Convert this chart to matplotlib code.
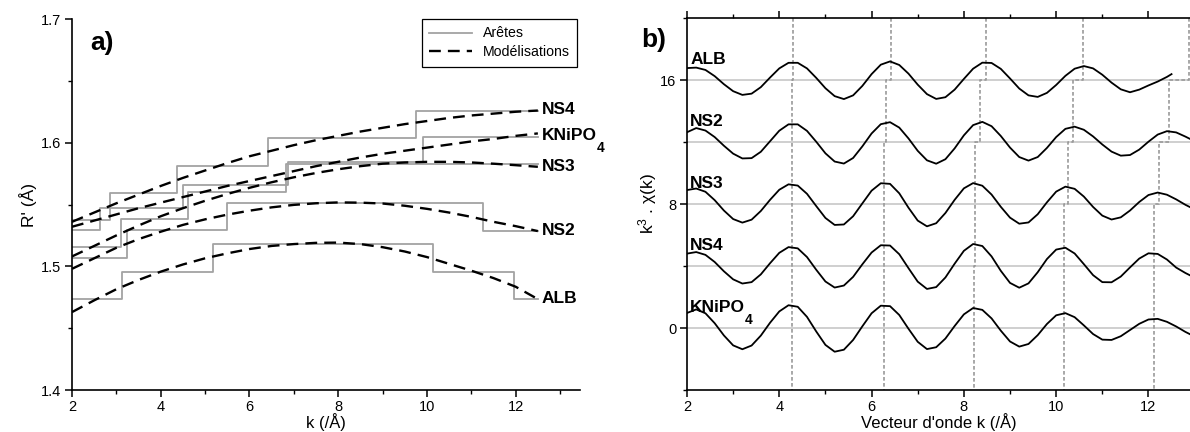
import matplotlib

matplotlib.use("Agg")
import matplotlib.pyplot as plt
from matplotlib.lines import Line2D
from matplotlib.ticker import MultipleLocator, FormatStrFormatter

plt.rcParams.update({
    "font.family": "Liberation Sans",
    "mathtext.fontset": "custom",
    "mathtext.rm": "Liberation Sans",
    "mathtext.it": "Liberation Sans:italic",
    "mathtext.bf": "Liberation Sans:bold",
    "font.size": 10,
    "axes.linewidth": 1.2,
    "xtick.major.size": 5, "ytick.major.size": 5,
    "xtick.minor.size": 3, "ytick.minor.size": 3,
    "xtick.major.width": 1.1, "ytick.major.width": 1.1,
    "xtick.minor.width": 1.0, "ytick.minor.width": 1.0,
})

STEP_GREY = "#a3a3a3"
BASE_GREY = "#cfcfcf"
STAIR_GREY = "#9a9a9a"

# ---- a) R' vs k : step edges ("Arêtes") and model curves ("Modélisations")
SERIES = ["NS4", "KNiPO", "NS3", "NS2", "ALB"]
EDGE_NS4 = [2.0, 2.85, 4.37, 6.42, 9.76, 12.5]
LEV_NS4 = [1.5375, 1.559, 1.581, 1.604, 1.626]
EDGE_KNI = [2.0, 2.62, 4.51, 6.87, 9.91, 12.5]
LEV_KNI = [1.529, 1.547, 1.566, 1.5846, 1.6048]
EDGE_NS3 = [2.0, 3.1, 4.62, 6.83, 12.5]
LEV_NS3 = [1.5154, 1.538, 1.5604, 1.5827]
EDGE_NS2 = [2.0, 3.23, 5.5, 11.26, 12.5]
LEV_NS2 = [1.5065, 1.529, 1.5515, 1.5288]
EDGE_ALB = [2.0, 3.12, 5.18, 10.14, 11.96, 12.5]
LEV_ALB = [1.4736, 1.4957, 1.5183, 1.4957, 1.4736]

K_MOD = [2.0, 2.5, 3.0, 3.5, 4.0, 4.5, 5.0, 5.5, 6.0, 6.5, 7.0, 7.5, 8.0,
         8.5, 9.0, 9.5, 10.0, 10.5, 11.0, 11.5, 12.0, 12.5]
MOD_NS4 = [1.536, 1.5435, 1.551, 1.558, 1.565, 1.5715, 1.5775, 1.5835, 1.589,
           1.5935, 1.598, 1.602, 1.6055, 1.609, 1.612, 1.615, 1.6175, 1.62,
           1.622, 1.6235, 1.625, 1.626]
MOD_KNI = [1.532, 1.537, 1.542, 1.547, 1.5515, 1.556, 1.5605, 1.565, 1.569,
           1.573, 1.577, 1.581, 1.5845, 1.588, 1.591, 1.5935, 1.596, 1.5985,
           1.601, 1.603, 1.6055, 1.6075]
MOD_NS3 = [1.508, 1.5165, 1.525, 1.533, 1.5405, 1.547, 1.553, 1.5585, 1.5635,
           1.568, 1.572, 1.5755, 1.5785, 1.581, 1.583, 1.584, 1.5845, 1.5845,
           1.584, 1.583, 1.5818, 1.5805]
MOD_NS2 = [1.498, 1.5065, 1.515, 1.522, 1.528, 1.5335, 1.538, 1.5418, 1.545,
           1.5477, 1.5497, 1.551, 1.5517, 1.5515, 1.5508, 1.549, 1.5465,
           1.5435, 1.54, 1.536, 1.5325, 1.5285]
MOD_ALB = [1.463, 1.4725, 1.4815, 1.489, 1.4957, 1.5015, 1.5065, 1.5105,
           1.514, 1.5165, 1.518, 1.519, 1.5192, 1.518, 1.5155, 1.512, 1.5075,
           1.502, 1.4965, 1.4905, 1.4835, 1.4735]

# ---- b) k^3 chi(k), stacked
K_CHI = [2.0, 2.2, 2.4, 2.6, 2.8, 3.0, 3.2, 3.4, 3.6, 3.8, 4.0, 4.2, 4.4, 4.6,
         4.8, 5.0, 5.2, 5.4, 5.6, 5.8, 6.0, 6.2, 6.4, 6.6, 6.8, 7.0, 7.2, 7.4,
         7.6, 7.8, 8.0, 8.2, 8.4, 8.6, 8.8, 9.0, 9.2, 9.4, 9.6, 9.8, 10.0,
         10.2, 10.4, 10.6, 10.8, 11.0, 11.2, 11.4, 11.6, 11.8, 12.0, 12.2,
         12.4, 12.6, 12.8, 12.9]
K_CHI_ALB = K_CHI[:53] + [12.5]
CHI_ALB = [16.77, 16.8, 16.65, 16.25, 15.73, 15.28, 15.04, 15.12, 15.54, 16.16,
           16.75, 17.11, 17.11, 16.75, 16.14, 15.47, 14.96, 14.77, 15.01, 15.62,
           16.38, 16.99, 17.2, 16.97, 16.41, 15.70, 15.09, 14.78, 14.89, 15.38,
           16.07, 16.73, 17.12, 17.10, 16.72, 16.10, 15.45, 15.01, 14.91, 15.17,
           15.68, 16.27, 16.73, 16.9, 16.75, 16.34, 15.83, 15.40, 15.21, 15.38,
           15.65, 15.9, 16.2, 16.38]
CHI_NS2 = [12.63, 12.9, 12.74, 12.32, 11.76, 11.25, 10.94, 10.96, 11.37, 12.05,
           12.73, 13.14, 13.14, 12.72, 12.02, 11.27, 10.74, 10.61, 10.97, 11.72,
           12.55, 13.15, 13.28, 12.93, 12.23, 11.43, 10.82, 10.6, 10.89, 11.59,
           12.43, 13.09, 13.3, 13.02, 12.39, 11.64, 11.03, 10.8, 11.03, 11.62,
           12.32, 12.85, 12.99, 12.79, 12.36, 11.84, 11.38, 11.12, 11.16, 11.51,
           12.02, 12.48, 12.7, 12.62, 12.35, 12.2]
CHI_NS3 = [8.9, 9.0, 8.79, 8.25, 7.58, 7.03, 6.8, 6.99, 7.55, 8.27, 8.92, 9.27,
           9.19, 8.66, 7.87, 7.10, 6.65, 6.68, 7.21, 8.04, 8.86, 9.34, 9.30,
           8.69, 7.76, 6.93, 6.56, 6.76, 7.42, 8.27, 9.01, 9.35, 9.18, 8.61,
           7.82, 7.12, 6.73, 6.81, 7.34, 8.11, 8.80, 9.12, 8.98, 8.48, 7.81,
           7.25, 7.0, 7.14, 7.58, 8.13, 8.58, 8.74, 8.6, 8.3, 7.95, 7.8]
CHI_NS4 = [4.8, 4.9, 4.72, 4.26, 3.66, 3.14, 2.87, 2.96, 3.46, 4.18, 4.85, 5.22,
           5.14, 4.58, 3.76, 3.00, 2.61, 2.74, 3.30, 4.11, 4.87, 5.34, 5.32,
           4.76, 3.86, 2.99, 2.52, 2.64, 3.26, 4.15, 4.98, 5.42, 5.29, 4.62,
           3.69, 2.91, 2.6, 2.88, 3.60, 4.45, 5.06, 5.18, 4.81, 4.12, 3.41,
           2.96, 2.95, 3.32, 3.91, 4.48, 4.82, 4.78, 4.42, 3.9, 3.55, 3.4]
CHI_KNI = [0.97, 1.2, 0.95, 0.31, -0.48, -1.12, -1.37, -1.13, -0.49, 0.34, 1.07,
           1.47, 1.37, 0.72, -0.22, -1.09, -1.53, -1.40, -0.77, 0.11, 0.95,
           1.44, 1.41, 0.84, -0.05, -0.89, -1.36, -1.24, -0.68, 0.13, 0.88,
           1.29, 1.17, 0.62, -0.17, -0.87, -1.2, -1.03, -0.46, 0.26, 0.82, 0.96,
           0.70, 0.17, -0.39, -0.75, -0.77, -0.53, -0.13, 0.27, 0.55, 0.59, 0.4,
           0.1, -0.25, -0.4]
OFFSETS = [16, 12, 8, 4, 0]
# peak positions per curve (ALB, NS2, NS3, NS4, KNiPO4) for the 5 oscillations
PEAK_ALB = [4.30, 6.42, 8.47, 10.58, 12.87]
PEAK_NS2 = [4.27, 6.31, 8.36, 10.36, 12.44]
PEAK_NS3 = [4.27, 6.26, 8.24, 10.25, 12.22]
PEAK_NS4 = [4.27, 6.26, 8.24, 10.18, 12.11]
PEAK_KNI = [4.27, 6.26, 8.23, 10.18, 12.11]

fig = plt.figure(figsize=(11.9, 4.32), dpi=100)
ax1 = fig.add_axes([0.0605, 0.0972, 0.4269, 0.8588])
ax2 = fig.add_axes([0.5773, 0.0972, 0.4227, 0.8611])

# ---- a)
edges = [EDGE_NS4, EDGE_KNI, EDGE_NS3, EDGE_NS2, EDGE_ALB]
levels = [LEV_NS4, LEV_KNI, LEV_NS3, LEV_NS2, LEV_ALB]
models = [MOD_NS4, MOD_KNI, MOD_NS3, MOD_NS2, MOD_ALB]
for e, lv in zip(edges, levels):
    ax1.step(e, lv + [lv[-1]], where="post", color=STEP_GREY, lw=1.3)
for m in models:
    ax1.plot(K_MOD, m, color="black", lw=1.7, dashes=(5, 3))
lab_y = [1.627, 1.606, 1.581, 1.5288, 1.4736]
for name, y in zip(SERIES, lab_y):
    t = ax1.text(12.58, y, name, fontsize=12.5, fontweight="bold",
                 va="center", ha="left", clip_on=False)
    if name == "KNiPO":
        ax1.annotate("4", xy=(1, 0), xycoords=t, xytext=(0, 1),
                     textcoords="offset points", fontsize=10,
                     fontweight="bold", va="top", ha="left",
                     annotation_clip=False)
ax1.set_xlim(2, 13.45)
ax1.set_ylim(1.4, 1.7)
ax1.xaxis.set_major_locator(MultipleLocator(2))
ax1.xaxis.set_minor_locator(MultipleLocator(1))
ax1.yaxis.set_major_locator(MultipleLocator(0.1))
ax1.yaxis.set_minor_locator(MultipleLocator(0.05))
ax1.yaxis.set_major_formatter(FormatStrFormatter("%.1f"))
ax1.spines["top"].set_visible(False)
ax1.spines["right"].set_visible(False)
ax1.tick_params(which="both", direction="out", labelsize=10.5, pad=2.5)
ax1.set_xlabel("k (/Å)", fontsize=12, labelpad=-1)
ax1.set_ylabel("R' (Å)", fontsize=12.5, labelpad=3)
handles = [Line2D([], [], color=STEP_GREY, lw=1.3, label="Arêtes"),
           Line2D([], [], color="black", lw=1.7, dashes=(5, 3),
                  label="Modélisations")]
leg = ax1.legend(handles=handles, loc="upper right",
                 bbox_to_anchor=(1.008, 1.018), fontsize=10.2,
                 handlelength=3.0, fancybox=False, framealpha=1,
                 edgecolor="black", borderpad=0.5, labelspacing=0.35)
leg.get_frame().set_linewidth(0.9)

# ---- b)
curves = [(K_CHI_ALB, CHI_ALB), (K_CHI, CHI_NS2), (K_CHI, CHI_NS3),
          (K_CHI, CHI_NS4), (K_CHI, CHI_KNI)]
for off in OFFSETS:
    ax2.axhline(off, color=BASE_GREY, lw=1.4, zorder=1)
peaks = [PEAK_ALB, PEAK_NS2, PEAK_NS3, PEAK_NS4, PEAK_KNI]
stair_levels = [20, 16, 12, 8, 4, -4]
for j in range(len(PEAK_ALB)):
    xs, ys = [], []
    for i, p in enumerate(peaks):
        xs += [p[j], p[j]]
        ys += [stair_levels[i], stair_levels[i + 1]]
    ax2.plot(xs, ys, color=STAIR_GREY, lw=1.2, dashes=(2.2, 1.4), zorder=2)
for kk, cc in curves:
    ax2.plot(kk, cc, color="black", lw=1.3, zorder=3)
names_b = ["ALB", "NS2", "NS3", "NS4", "KNiPO"]
for name, off in zip(names_b, OFFSETS):
    t = ax2.text(2.07, off + 1.05, name, fontsize=12.5, fontweight="bold",
                 va="baseline", ha="left")
    if name == "KNiPO":
        ax2.annotate("4", xy=(1, 0), xycoords=t, xytext=(0, 1),
                     textcoords="offset points", fontsize=10,
                     fontweight="bold", va="top", ha="left")
ax2.set_xlim(2, 12.9)
ax2.set_ylim(-4, 20)
ax2.xaxis.set_major_locator(MultipleLocator(2))
ax2.xaxis.set_minor_locator(MultipleLocator(1))
ax2.set_yticks([0, 8, 16])
ax2.set_yticks([-4, 4, 12, 20], minor=True)
ax2.spines["right"].set_visible(False)
ax2.tick_params(which="both", direction="out", labelsize=10.5, top=True,
                pad=2.5)
ax2.set_xlabel("Vecteur d'onde k (/Å)", fontsize=12, labelpad=-1)
ax2.set_ylabel(r"k$^3$ . χ(k)", fontsize=12.5, labelpad=1)

fig.text(0.0755, 0.90, "a)", fontsize=19, fontweight="bold", va="center")
fig.text(0.5385, 0.907, "b)", fontsize=19, fontweight="bold", va="center")

fig.savefig("out.png", dpi=100)
